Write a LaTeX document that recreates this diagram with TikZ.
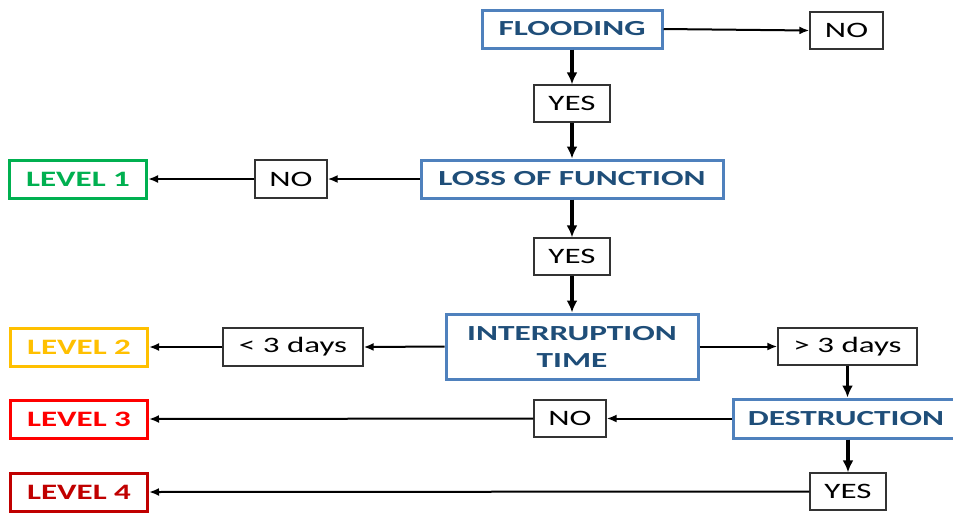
\documentclass[tikz,border=0pt]{standalone}
\usepackage{fontspec}
\setmainfont{Carlito}
\usepackage{graphicx}
\usetikzlibrary{arrows.meta}
\definecolor{bborder}{HTML}{4F81BD}
\definecolor{btext}{HTML}{1F4E79}
\definecolor{lgreen}{HTML}{00B050}
\definecolor{lyellow}{HTML}{FFC000}
\definecolor{lred}{HTML}{FF0000}
\definecolor{ldred}{HTML}{C00000}
\newcommand{\wtxt}[1]{\scalebox{1.5}[1]{#1}}
\newcommand{\qtxt}[1]{\scalebox{1.55}[1]{#1}}
\tikzset{
  qbox/.style={draw=bborder, line width=3pt, inner sep=0pt, text=btext,
    font=\fontsize{21.5}{28}\selectfont\bfseries, align=center},
  abox/.style={draw=black!80, line width=1.3pt, inner sep=0pt, text=black,
    font=\fontsize{22}{26}\selectfont},
  lbox/.style={line width=3pt, inner sep=0pt, minimum width=137pt, minimum height=38pt,
    font=\fontsize{22}{26}\selectfont\bfseries},
  thick arrow/.style={line width=3.5pt, -{Latex[length=12pt,width=11pt]}},
  thin arrow/.style={line width=2pt, -{Latex[length=10pt,width=8pt]}}
}
\begin{document}
\begin{tikzpicture}[x=1pt,y=-1pt]
\useasboundingbox[fill=white] (0,0) rectangle (953,512);
% question boxes
\node[qbox, minimum width=180pt, minimum height=38pt] (flood) at (572,29) {\qtxt{FLOODING}};
\node[qbox, minimum width=302pt, minimum height=38pt] (loss) at (572,179) {\qtxt{LOSS OF FUNCTION}};
\node[qbox, minimum width=252pt, minimum height=65pt] (intr) at (572,346.5) {\qtxt{INTERRUPTION}\\[-1pt]\qtxt{TIME}};
\node[qbox, minimum width=226pt, minimum height=39pt] (dest) at (846,418.5) {\qtxt{DESTRUCTION}};
% answer boxes
\node[abox, minimum width=73pt, minimum height=37pt] (no1) at (846.5,30.5) {\wtxt{NO}};
\node[abox, minimum width=76pt, minimum height=37pt] (yes1) at (572,103.5) {\wtxt{YES}};
\node[abox, minimum width=72pt, minimum height=38pt] (no2) at (291,179) {\wtxt{NO}};
\node[abox, minimum width=76pt, minimum height=37pt] (yes2) at (572,256.5) {\wtxt{YES}};
\node[abox, minimum width=140pt, minimum height=38pt] (lt3) at (293,347) {\wtxt{< 3 days}};
\node[abox, minimum width=139pt, minimum height=37pt] (gt3) at (847.5,346.5) {\wtxt{> 3 days}};
\node[abox, minimum width=72pt, minimum height=37pt] (no3) at (570,418.5) {\wtxt{NO}};
\node[abox, minimum width=76pt, minimum height=37pt] (yes3) at (848,491.5) {\wtxt{YES}};
% level boxes
\node[lbox, draw=lgreen, text=lgreen] (l1) at (78,179) {\wtxt{LEVEL 1}};
\node[lbox, draw=lyellow, text=lyellow] (l2) at (79,347) {\wtxt{LEVEL 2}};
\node[lbox, draw=lred, text=lred] (l3) at (79,419) {\wtxt{LEVEL 3}};
\node[lbox, draw=ldred, text=ldred] (l4) at (79,492) {\wtxt{LEVEL 4}};
% connectors
\draw[thin arrow] (flood.east) -- (no1.west);
\draw[thick arrow] (flood.south) -- (yes1.north);
\draw[thick arrow] (yes1.south) -- (loss.north);
\draw[thin arrow] (loss.west) -- (no2.east);
\draw[thin arrow] (no2.west) -- (l1.east);
\draw[thick arrow] (loss.south) -- (yes2.north);
\draw[thick arrow] (yes2.south) -- (intr.north);
\draw[thin arrow] (intr.west) -- (lt3.east);
\draw[thin arrow] (lt3.west) -- (l2.east);
\draw[thin arrow] (intr.east) -- (gt3.west);
\draw[thick arrow] (gt3.south) -- (gt3.south |- dest.north);
\draw[thin arrow] (dest.west) -- (no3.east);
\draw[thin arrow] (no3.west) -- (l3.east);
\draw[thick arrow] (yes3.north |- dest.south) -- (yes3.north);
\draw[thin arrow] (yes3.west) -- (l4.east);
\end{tikzpicture}
\end{document}
